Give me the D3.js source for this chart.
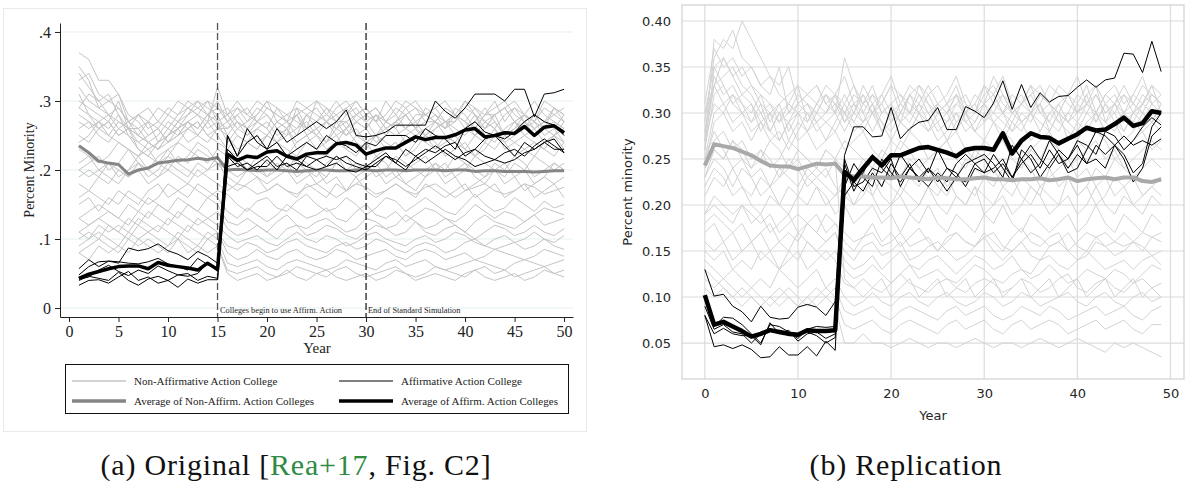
<!DOCTYPE html>
<html><head><meta charset="utf-8">
<script src="https://cdn.jsdelivr.net/npm/d3@7"></script>
<style>body{margin:0;background:#fff}svg{display:block}</style>
</head><body>
<svg id="c" width="1187" height="483"></svg>
<script>
// ---------------- DATA (values in percent) ----------------
// Panel (a): years 1..50
const yearsA = d3.range(1, 51);
const xTicksA = [0,5,10,15,20,25,30,35,40,45,50];
const yTicksA = [0, 0.1, 0.2, 0.3, 0.4];
const yTickLabelsA = ["0", ".1", ".2", ".3", ".4"];
const greyA = [
"37 36 33 33 31 28 27 25 26 28  27 29 28 27 32 28 26 27 29 28  26 27 25 28 29 27 26 28 30 28  27 25 27 28 26 29 28 27 28 26  27 29 27 25 27 28 26 27 28 27",
"35 33 29 30 31 27 25 24 25 27  26 28 30 29 28 29 27 26 28 30  27 28 29 26 27 28 30 28 29 27  28 26 27 29 30 28 27 29 28 27  26 28 29 30 28 27 26 27 29 27",
"34 32 30 31 28 26 26 27 24 25  27 28 29 30 27 28 30 28 27 26  29 28 27 26 30 29 27 27 28 29  27 30 28 26 28 28 29 27 27 30  28 26 28 29 27 28 30 28 27 26",
"33 34 31 30 29 27 26 24 23 25  26 27 26 28 27 26 28 29 27 28  26 25 29 28 26 27 28 29 27 26  28 27 29 28 26 27 27 26 29 28  26 28 28 29 27 26 28 26 29 28",
"32 30 29 28 27 26 25 24 23 24  26 27 25 27 28 25 27 26 24 25  27 26 28 25 26 27 25 26 28 27  25 26 27 28 26 25 27 26 28 27  25 26 27 25 26 28 27 26 25 27",
"30 29 28 27 30 26 25 27 26 24  25 27 28 26 27 24 26 25 27 26  24 25 26 27 25 24 26 27 25 26  24 25 27 26 25 24 26 27 25 26  28 25 24 26 27 25 26 24 25 26",
"29 28 26 27 25 26 24 23 24 26  25 27 26 28 26 27 25 24 26 25  27 26 24 25 26 24 27 25 26 24  25 27 26 24 25 26 27 25 24 26  25 27 26 24 25 26 27 25 26 24",
"28 27 26 25 27 26 23 22 24 25  26 24 25 27 25 23 25 24 23 25  24 26 23 24 25 23 24 26 24 23  25 24 23 25 26 24 23 25 24 23  25 24 26 23 24 25 24 23 25 24",
"27 26 27 25 24 23 22 24 23 25  27 26 25 24 26 25 23 24 25 23  24 22 24 25 23 24 25 23 22 24  25 23 24 22 24 25 23 24 25 23  22 24 23 25 24 23 22 24 25 23",
"26 27 25 24 26 25 23 22 21 23  24 26 27 25 24 23 22 24 23 25  24 23 22 24 23 22 24 23 25 24  22 23 24 22 23 25 24 22 23 24  22 23 25 24 22 23 24 23 22 24",
"25 24 26 27 25 26 28 27 29 28  30 29 28 30 29 28 29 27 28 30  29 27 28 29 30 28 27 29 30 28  29 27 28 30 29 28 27 29 28 30  29 27 28 29 30 28 27 29 28 29",
"24 25 27 28 26 27 28 29 27 26  28 29 30 28 29 27 28 26 27 29  28 27 26 28 27 29 28 26 27 28  29 27 26 28 29 27 28 26 27 29  28 27 26 28 29 27 28 27 26 28",
"29 31 30 28 29 27 28 26 27 29  28 30 29 28 30 27 29 28 30 29  28 27 30 29 28 27 29 30 28 29  27 28 30 29 27 28 29 30 28 27  29 28 30 27 29 28 27 30 29 28",
"31 28 27 26 28 25 24 25 26 24  25 26 27 25 26 26 27 25 26 27  25 26 28 26 25 27 26 25 27 26  28 26 25 26 27 25 26 27 26 25  27 26 28 25 26 27 25 26 27 26",
"23 22 21 22 24 23 21 20 22 23  21 22 24 23 21 20 22 21 20 19  21 20 22 21 20 19 21 22 20 21  19 20 22 21 20 19 21 20 22 21  20 19 21 20 22 21 19 20 21 20",
"21 22 20 21 19 20 22 23 21 20  22 21 23 22 21 20 19 20 21 19  20 21 19 20 18 19 21 20 19 20  21 19 20 18 19 20 21 19 20 21  19 18 20 21 19 20 18 19 21 20",
"20 21 22 20 21 23 22 20 21 22  24 23 22 21 23 22 21 20 22 21  20 22 21 20 19 21 22 20 21 20  22 21 19 20 21 22 20 21 19 20  22 21 20 19 21 20 22 21 20 21",
"20 19 20 19 18 20 21 19 20 22  21 20 19 20 21 19 18 20 19 18  19 20 18 19 20 18 19 17 18 19  20 18 19 18 17 19 20 18 19 17  18 19 20 18 19 17 18 19 18 19",
"18 17 19 18 20 19 21 20 19 21  20 19 21 20 22 18 17 18 19 17  18 17 16 18 17 16 18 17 19 17  16 17 18 17 16 18 17 16 17 18  16 17 18 16 17 18 16 17 18 16",
"16 17 16 15 17 16 15 17 18 16  17 18 17 16 17 16.5 15 14 15.5 16 14.5 14 15.5 16.5 15  14 14.5 16 15 13.5 14.5 16 15.5 14 15  16 15 14 13.5 15 16.5 15 14 14.5 16  15 14 15.5 14.5 15",
"15 16 14 16 15 17 16 15 16 18  17 16 18 17 16 14 13 14.5 13.5 12.5  13.5 15 14 13 13.5 14.5 13 12.5 14 15  13.5 13 14 12.5 13.5 14.5 14 13 12.5 13.5  15 14 13 14 13.5 12.5 13.5 14.5 14 13.5",
"13 14 15 14 13 15 14 16 15 14  16 15 14 16 15 12.5 12 13 12 11  12.5 13.5 12 11.5 12.5 13 12 11 11.5 13  12.5 11.5 12 13.5 12.5 11.5 12 13 12 11  12.5 13.5 12.5 12 11.5 12.5 13.5 12 12.5 13",
"13 12 13 14 13 12 14 13 15 14  13 15 14 13 14 11.5 10.5 11 12 11  10 11.5 12 10.5 11 12 11.5 10.5 10 11  12 11.5 10.5 11 12.5 11 10.5 11.5 12 11  10 11 12 11.5 10.5 11 12 11 10.5 11.5",
"11 12 13 12 11 13 12 14 13 12  14 13 12 13 12 10.5 9.5 10 10.5 9.5  9 10 11 10 9.5 10.5 10 9 9.5 10.5  11 10 9.5 9 10 10.5 9.5 10 11 10.5  9.5 9 10 10.5 9.5 10 11 10 9.5 10.5",
"11 10 12 11 12 11 13 12 11 13  12 11 13 12 11 9 8.5 9.5 9 8  8.5 9.5 10 9 8.5 8 9 9.5 8.5 9  10 9.5 8.5 8 9 9.5 9 8 8.5 9.5  10 9 8.5 9 9.5 8.5 9 10 9 8.5",
"10 11 10 12 11 10 12 11 12 11  10 12 11 10 11 8 7 7.5 8.5 7.5  7 8 8.5 7.5 7 7.5 8.5 8 7 7.5  8 8.5 7.5 7 8 8.5 8 7 7.5 8  7 7.5 8.5 8 7.5 7 7.5 8.5 8 7.5",
"9 10 11 10 9 11 10 11 10 9  11 10 9 11 10 6.5 6 6.5 7 6  5.5 6.5 7 6.5 6 5.5 6 7 6.5 6  5.5 6.5 7 6 6.5 7 6 5.5 6 6.5  7 6.5 6 5.5 6.5 7 6.5 6 6.5 7",
"8 9 10 9 8 10 9 10 9 8  10 9 8 10 9 5.5 5 5.5 6 5  4.5 5 6 5.5 5 4.5 5.5 6 5 4.5  5 5.5 6 5 4.5 5 6 5.5 5 4.5  5.5 6 5 5.5 4.5 5 5.5 6 5 5.5",
"8 7 9 8 9 8 10 9 8 9  10 8 9 8 9 5 4 4.5 5 4  4.5 5.5 4.5 4 5 5.5 4.5 4 4.5 5  4 4.5 5.5 5 4 4.5 5 4.5 4 5  5.5 4.5 4 4.5 5 4 4.5 5.5 5 4.5",
"19 20 19 21 20 19 20 18 19 20  19 18 20 19 18 17 18 17.5 16.5 17  18 17 16.5 17.5 18 17 16 17 18 17.5  16.5 17 18 17 16.5 17.5 18 17 16 17  17.5 18 17 16.5 17 18 17.5 16.5 17 17.5"
];
const blackA = [
"5.7 7.0 6.0 6.8 6.5 8.7 8.3 8.6 9.3 8.3 7.8 7.0 8.2 7.5 6.5  25 22 24 25 23 26 24 25 26 27  26 27 28.7 25 24.8 25 25.5 26.5 26.5 26.5  26.5 30 28.5 27.5 29 31 31 31 30 31.7  31.7 27.7 31 31.2 31.7",
"4.8 6.0 6.7 6.8 6.7 6.5 6.4 6.7 7.2 6.4 6.0 5.5 7.2 6.3 5.8  25 22 26 24 23 24 22 23 24 23  25 24 23.5 22.5 24 23.5 25 25 25 24  26 25 24.5 23 26 27 25.5 25 24.5 25.5  27 28 27 26.5 25",
"4.2 4.5 5.5 6.2 5.3 4.7 5.5 5.0 6.1 5.4 4.8 4.6 5.0 6.5 5.3  23 21.5 20 21 22 20.5 21 20 22 21.5  22 21.5 22 21 20.5 21.5 22.5 21 20 22  23 22.5 23.5 24 22 23 24.5 25 23.5 22  24 23 24 24.5 22.5",
"4.0 4.6 4.3 4.0 5.2 4.0 3.3 4.2 4.6 4.0 4.8 5.0 4.0 4.6 4.3  22 20.5 21 20 21.5 20 22 21.5 20.5 20  20.5 22 21 20.5 20 21 22 21.5 20.5 21.5  22.5 23.5 22.5 21.5 22.5 23 22 21.5 22.5 23  22 23.5 24.5 23.5 22.5",
"3.3 4.0 4.1 3.6 4.5 5.3 4.0 4.5 3.6 4.0 3.0 4.2 3.6 4.1 4.1  20.5 21 20 20.5 20.5 22 20.5 21 20.5 21.5  20.5 21 20 19.7 20.5 20.5 22 21 23 22  21 22 23 22 21.5 20.5 21 21.5 21 21.5  22.5 23 24 23 23"
];
const avgNonA = "23.5 22.5 21.3 21.0 20.8 19.4 20.0 20.3 21.0 21.2 21.4 21.5 21.7 21.5 21.8  20.0 20.1 20.0 19.9 20.0 20.0 19.9 19.8 19.9 20.0  20.0 19.9 19.9 20.0 20.0 19.9 20.0 20.0 19.9 20.0  20.0 20.0 19.9 20.0 20.0 19.8 19.9 19.9 19.8 19.8  19.8 19.7 19.8 19.9 19.9";
const avgAffA = "4.3 4.9 5.3 5.7 6.0 6.1 6.1 5.7 6.6 6.2 6.0 5.8 5.5 6.5 5.6  22.3 21.4 22.0 21.8 22.6 22.8 22.0 21.6 22.3 22.5  22.5 23.8 24.0 23.6 22.3 22.8 23.2 23.2 24.0 24.8  24.4 24.7 24.7 25.1 25.8 26.0 24.8 25.0 25.4 25.3  26.3 25.0 26.2 26.4 25.4";
const legendA = ["Non-Affirmative Action College", "Affirmative Action College",
                 "Average of Non-Affirm. Action Colleges", "Average of Affirm. Action Colleges"];

// Panel (b): years 0..49
const yearsB = d3.range(0, 50);
const xTicksB = [0, 10, 20, 30, 40, 50];
const yTicksB = [0.05, 0.10, 0.15, 0.20, 0.25, 0.30, 0.35, 0.40];
const greyB = [
"27 38 37 39 36 35 33 34 32 31  30 31 30 32 31 30 32 31 33 30  31 32 30 31 33 31 30 32 31 30  32 33 31 30 31 32 30 31 33 32  30 31 32 30 31 33 31 30 32 31",
"29 36 38 37 40 38 36 34 33 35  31 32 33 31 30 32 30 33 31 32  30 31 33 32 30 31 32 34 31 30  33 31 32 30 31 33 32 31 30 32  31 33 30 32 31 30 32 31 33 32",
"31 37 35 36 34 35 33 32 35 30  32 31 29 30 32 31 33 30 32 31  29 30 32 33 31 30 29 31 32 30  31 29 30 32 31 33 30 29 31 32  30 31 33 29 30 32 31 30 29 31",
"30 35 36 34 35 33 32 31 30 31  33 29 31 32 30 36 33 31 30 32  34 31 30 33 32 30 31 33 30 32  31 34 32 30 31 32 33 31 30 32  34 31 30 32 33 31 32 34 31 32",
"28 33 34 35 33 32 30 31 29 30  31 32 33 31 32 30 31 29 30 31  33 30 32 31 29 31 30 32 29 30  31 32 30 29 31 30 32 31 29 30  32 31 30 29 31 32 30 31 33 30",
"26 32 33 31 32 33 31 30 29 31  30 28 29 30 31 29 30 32 30 28  29 31 30 29 28 30 31 29 30 28  29 31 30 28 29 30 31 29 28 30  29 31 30 28 29 30 29 31 30 29",
"27 31 30 32 31 29 30 28 30 29  31 30 28 29 30 28 30 29 31 29  28 30 29 31 30 28 29 30 28 29  31 30 29 28 30 29 31 28 30 29  28 30 29 31 29 28 30 29 31 30",
"25 30 31 29 30 31 28 30 27 29  30 31 30 32 31 30 29 31 32 30  31 29 30 32 31 29 30 31 30 29  31 32 30 31 29 30 32 31 30 29  31 30 32 30 31 29 30 32 31 30",
"28 34 32 33 31 30 32 29 31 28  30 29 31 30 32 29 31 30 28 30  31 29 32 30 29 31 30 28 30 31  29 30 32 31 29 30 28 30 31 29  30 32 29 31 30 28 30 31 32 31",
"24 29 30 28 29 27 29 28 30 27  29 28 30 29 28 30 28 29 31 28  30 29 28 30 29 27 28 30 29 28  30 29 27 29 28 30 29 28 30 27  29 28 30 29 28 30 29 28 29 30",
"26 35 33 31 30 28 29 27 28 26  28 30 29 27 29 31 29 28 30 29  27 29 28 30 28 29 27 29 30 28  27 29 28 30 29 27 28 30 29 28  27 29 30 28 29 27 28 30 29 28",
"30 33 36 34 32 31 29 30 31 32  33 32 31 33 32 34 31 32 30 31  33 32 31 30 32 33 31 32 30 31  33 32 34 31 32 30 31 33 32 31  30 32 33 31 32 30 31 33 32 31",
"26 27 28 26 27 25 26 24 25 27  26 25 24 26 25 27 26 25 24 26  25 27 26 24 25 26 27 25 24 26  25 26 27 25 24 26 25 27 26 24  25 26 27 25 26 24 25 26 27 26",
"24 26 25 27 25 24 26 25 23 24  26 25 24 23 25 24 23 25 24 22  24 23 25 24 23 24 22 23 25 24  23 22 24 23 25 24 22 23 24 25  23 24 22 23 25 24 23 24 25 24",
"23 25 24 22 24 23 21 22 24 23  22 24 23 22 21 23 22 24 21 23  22 21 23 22 24 22 21 23 22 21  23 24 22 21 23 22 21 24 22 23  21 22 24 23 21 22 23 21 22 23",
"21 23 22 24 22 21 23 22 20 22  21 23 22 20 21 22 20 21 23 21  20 22 21 20 22 21 23 21 20 22  21 20 22 23 21 20 22 21 20 23  21 22 20 21 23 22 20 21 22 21",
"25 28 26 24 25 23 24 22 23 25  24 22 23 24 22 21 20 22 21 19  20 21 19 20 22 20 19 21 20 22  19 20 21 19 20 22 21 19 20 21  19 20 22 20 19 21 20 19 21 20",
"22 24 23 21 22 20 19 21 20 19  21 20 22 21 19 20 18 19 20 18  19 17 19 18 20 18 17 19 18 17  19 18 20 18 17 19 18 17 18 19  17 18 20 18 17 19 18 17 19 18",
"19 21 20 19 20 18 19 17 18 19  17 18 19 17 18 17 16 16.5 18 16  17 15.5 16.5 17.5 16 15 16.5 17 16 15.5  17 16 15 16.5 17.5 16 15.5 16.5 17 15  16 17 16.5 15.5 16 17 16 15 16.5 17",
"18 19 18 17 18 16 17 18 16 17  16 18 17 16 17 15 14 15.5 16 14.5  15 16 14 14.5 15.5 16 15 14 14.5 15.5  16.5 15 14 15 16 14.5 14 15.5 16 15  14 14.5 16 15.5 14.5 15 16 15.5 14.5 15",
"17 18 16 17 15 16 17 15 16 15  17 16 15 16 17 14 13 13.5 14.5 13  14 15 13.5 13 14 14.5 13.5 12.5 13.5 14.5  14 13 13.5 14.5 13 12.5 14 14.5 13.5 13  14 15 14 13 13.5 14 13 14 14.5 13.5",
"16 15 16 14 15 16 14 15 13 15  14 16 15 14 15 13 12 12.5 13.5 12.5  11.5 12.5 13.5 12 12.5 13 12 11.5 12.5 13.5  13 12 11.5 12.5 13 12 12.5 13.5 12.5 11.5  12 13 12.5 12 13 12.5 11.5 12.5 13.5 13",
"15 14 15 13 14 13 15 14 13 14  15 13 14 15 14 11.5 11 12 11 10.5  11.5 12.5 11.5 11 10.5 11.5 12 11 10.5 11.5  12 11.5 10.5 11 12 11.5 10.5 11 12 12.5  11 10.5 11.5 12 11 10.5 11.5 12 11 11.5",
"14 13 12 13 12 11 12 11 13 12  11 12 13 11 12 10 9 9.5 10.5 9.5  9 10 10.5 9.5 9 10 10.5 9.5 9 9.5  10.5 10 9 9.5 10.5 10 9 9.5 10 10.5  9.5 9 10 10.5 9.5 9 10 10.5 9.5 10",
"13 12 11 10 11 10 9 10 11 10  9 10 11 10 11 8.5 8 8.5 9 8  7.5 8.5 9 8.5 8 7.5 8.5 9 8 8.5  9 8 7.5 8 9 8.5 8 9 8.5 7.5  8 8.5 9 8 8.5 9 8 7.5 8.5 9",
"12 11 12 11 10 11 10 9 10 11  10 9 10 11 10 7 6.5 7 7.5 6.5  6 7 7.5 7 6.5 6 7 7.5 6.5 7  7.5 6.5 6 7 7.5 6.5 7 7.5 7 6  6.5 7 7.5 6.5 7 7.5 6.5 6 7 7",
"11 10 11 10 9 10 9 10 9 10  9 10 9 10 9 5 5 6 5 5  4.5 5 5.5 5 4.5 5 5 4.5 5 5.5  5 4.5 5 5 4.5 5 5.5 5 4.5 5  5.5 5 4.5 4 5 4.5 5 4.5 4 3.5",
"19 20 19 18 20 19 18 19 17 18  19 18 17 19 18 16 15 16.5 17 15.5  16 17 15.5 16 16.5 15 16 17 16 15.5  16.5 17 15.5 15 16 17 16.5 15.5 16 17  15.5 15 16.5 17 16 15.5 16 17 16.5 16",
"27 33 31 32 30 29 31 28 27 29  27 28 26 27 28 26 27 28 26 25  27 26 28 27 25 26 27 28 26 25  27 26 28 27 25 26 27 28 26 25  27 26 28 27 25 26 27 28 26 27",
"23 26 25 27 26 24 25 27 26 24  25 23 24 26 25 12 11 10 11 12  10 11 12 10 11 12 10 11 12 10  11 12 10 11 12 10 11 12 10 11  12 10 11 12 10 11 12 10 11 10"
];
const blackB = [
"13.0 10.1 10.3 9.0 8.4 7.3 9.0 7.8 7.6 7.7 8.9 9.2 8.9 8.0 9.5  25.4 28.5 28.5 27.4 27.5 30.6 27.2 28.3 29 29.2  30.6 28.2 28.2 30.7 30.2 29.5 31.1 33.5 30.4 33.1  30.6 32.2 31.2 31.8 31.9 32.8 33.6 32.8 33.6 33.8  36.5 36.4 34.4 37.8 34.5",
"10.0 6.8 7.8 7.7 7.0 6.0 5.0 7.0 6.8 6.2 5.5 6.5 6.8 6.7 6.8  24.5 21.5 23.5 25.5 24 23 25.5 24 25 23.5  26 24 23 24.5 25 25.5 24.5 23 26.5 25  23.5 24.5 27 25.5 23.5 24 26 28 27.5 26.5  25.5 23.5 24.5 28.5 30",
"8.0 6.0 6.6 6.0 5.8 5.8 4.8 7.2 6.0 6.4 5.2 6.0 6.2 5.5 6.0  22 24.5 23 22 25 23.5 22.5 24 23 22  23.5 22.5 24.5 25.5 24.5 23.5 25.5 24 22.5 26  25 23 24.5 26 25 27 26.5 25.5 28 27.5  26 27 28.5 29.5 28.7",
"9.0 6.5 7.0 6.2 6.0 5.0 6.0 6.5 6.3 5.8 5.8 6.2 5.8 5.0 5.6  21 22.5 21.5 23.5 22 24.5 23 24.5 22.5 24  23 21.5 23 22.5 24.5 25 23.5 24.5 23 25  26.5 25 24 25.5 24 25.5 24.5 26.5 25.5 26.5  27.5 26.5 27 26.5 27.2",
"8.0 4.6 4.8 4.4 4.8 4.3 3.4 3.5 4.6 3.7 3.7 4.6 3.6 5.2 4.2  25 22 22.5 24 23.5 25 22 24 23 24  22.5 24 23.5 22 24 23.5 24 25 23 24.5  25.5 24 26 24.5 25 26.5 24.5 25 24 26.5  25 22.5 24 27.5 28.5"
];
const avgNonB = "24.3 26.6 26.4 26.2 25.8 25.4 24.8 24.3 24.2 24.2  23.9 24.2 24.5 24.4 24.5 23.3 23.1 23.1 23.0 23.0  22.9 23.1 23.0 22.9 22.8 23.0 22.9 22.8 22.8 22.9  23.0 22.8 22.8 22.7 22.8 22.8 22.9 22.7 22.8 23.0  22.6 22.8 22.9 23.0 22.8 23.0 23.0 22.6 22.5 22.8";
const avgAffB = "10.2 7.0 7.3 6.8 6.3 5.7 6.0 6.4 6.2 6.0  5.9 6.4 6.3 6.3 6.4 23.6 22.7 24.0 25.2 24.3  25.4 25.4 25.8 26.2 26.3 26.0 25.7 25.3 26.0 26.2  26.2 26.0 27.8 25.6 27.0 27.8 27.4 27.3 26.7 27.2  27.7 28.4 28.1 28.2 28.8 29.5 28.6 28.9 30.2 30.0";

// ---------------- DRAWING ----------------
const parse = s => s.trim().split(/\s+/).map(v => +v / 100);
const svg = d3.select("#c");
const SERIF = "'Liberation Serif','Times New Roman',serif";
const SANS = "'DejaVu Sans',sans-serif";

// ===== Panel (a) =====
const gA = svg.append("g");
gA.append("rect").attr("x", 3.5).attr("y", 8.5).attr("width", 583).attr("height", 423)
  .attr("fill", "#fff").attr("stroke", "#e6ecee");
const xA = d3.scaleLinear().domain([-0.91, 50.9]).range([60, 573]);
const yA = d3.scaleLinear().domain([-0.013, 0.413]).range([317, 23]);

gA.selectAll("line.grid").data(yTicksA).join("line")
  .attr("x1", 60).attr("x2", 573).attr("y1", d => yA(d)).attr("y2", d => yA(d))
  .attr("stroke", "#e6eff1").attr("stroke-width", 1);

const lineA = d3.line().x((d, i) => xA(yearsA[i])).y(d => yA(d));
gA.selectAll("path.grey").data(greyA.map(parse)).join("path")
  .attr("d", lineA).attr("fill", "none").attr("stroke", "#c4c4c4").attr("stroke-width", 1);
gA.append("path").attr("d", lineA(parse(avgNonA))).attr("fill", "none")
  .attr("stroke", "#858585").attr("stroke-width", 3).attr("stroke-linejoin", "round");

[[15, "#555"], [30, "#222"]].forEach(([v, c]) => {
  gA.append("line").attr("x1", xA(v)).attr("x2", xA(v)).attr("y1", 23).attr("y2", 317)
    .attr("stroke", c).attr("stroke-width", 1.3).attr("stroke-dasharray", "7,3");
});

gA.selectAll("path.black").data(blackA.map(parse)).join("path")
  .attr("d", lineA).attr("fill", "none").attr("stroke", "#000").attr("stroke-width", 1);
gA.append("path").attr("d", lineA(parse(avgAffA))).attr("fill", "none")
  .attr("stroke", "#000").attr("stroke-width", 3.5).attr("stroke-linejoin", "round");

const axLA = gA.append("g").attr("transform", "translate(60,0)")
  .call(d3.axisLeft(yA).tickValues(yTicksA).tickFormat((d, i) => yTickLabelsA[i]).tickSize(5).tickSizeOuter(0).tickPadding(4));
const axBA = gA.append("g").attr("transform", "translate(0,317)")
  .call(d3.axisBottom(xA).tickValues(xTicksA).tickSize(5).tickSizeOuter(0).tickPadding(4));
[axLA, axBA].forEach(a => {
  a.selectAll("text").attr("font-family", SERIF).attr("font-size", 16).attr("fill", "#222");
  a.selectAll("line,path").attr("stroke", "#222");
});

gA.append("text").attr("x", 220).attr("y", 313).attr("font-family", SERIF).attr("font-size", 8.3)
  .attr("fill", "#222").text("Colleges begin to use Affirm. Action");
gA.append("text").attr("x", 368).attr("y", 313).attr("font-family", SERIF).attr("font-size", 8.3)
  .attr("fill", "#222").text("End of Standard Simulation");

gA.append("text").attr("transform", "translate(34,170) rotate(-90)").attr("text-anchor", "middle")
  .attr("font-family", SERIF).attr("font-size", 14).attr("fill", "#222").text("Percent Minority");
gA.append("text").attr("x", 317).attr("y", 353).attr("text-anchor", "middle")
  .attr("font-family", SERIF).attr("font-size", 15).attr("fill", "#222").text("Year");

gA.append("rect").attr("x", 65.5).attr("y", 364.5).attr("width", 503).attr("height", 49)
  .attr("fill", "#fff").attr("stroke", "#111");
const legItems = [
  {x: 72, y: 381, c: "#c4c4c4", w: 1.5, t: legendA[0]},
  {x: 339, y: 381, c: "#000", w: 1, t: legendA[1]},
  {x: 72, y: 401, c: "#858585", w: 3.5, t: legendA[2]},
  {x: 339, y: 401, c: "#000", w: 3.5, t: legendA[3]}
];
legItems.forEach(L => {
  gA.append("line").attr("x1", L.x).attr("x2", L.x + 54).attr("y1", L.y).attr("y2", L.y)
    .attr("stroke", L.c).attr("stroke-width", L.w);
  gA.append("text").attr("x", L.x + 62).attr("y", L.y + 4).attr("font-family", SERIF)
    .attr("font-size", 11).attr("fill", "#222").text(L.t);
});

// ===== Panel (b) =====
const gB = svg.append("g");
const xB = d3.scaleLinear().domain([-2.45, 51.45]).range([682, 1184]);
const yB = d3.scaleLinear().domain([0.0109, 0.4174]).range([379, 5]);

gB.selectAll("line.gx").data(xTicksB).join("line")
  .attr("x1", d => xB(d)).attr("x2", d => xB(d)).attr("y1", 5).attr("y2", 379)
  .attr("stroke", "#dcdcdc").attr("stroke-width", 1.2);
gB.selectAll("line.gy").data(yTicksB).join("line")
  .attr("x1", 682).attr("x2", 1184).attr("y1", d => yB(d)).attr("y2", d => yB(d))
  .attr("stroke", "#dcdcdc").attr("stroke-width", 1.2);

const lineB = d3.line().x((d, i) => xB(yearsB[i])).y(d => yB(d));
gB.selectAll("path.grey").data(greyB.map(parse)).join("path")
  .attr("d", lineB).attr("fill", "none").attr("stroke", "#d3d3d3").attr("stroke-width", 1);
gB.selectAll("path.black").data(blackB.map(parse)).join("path")
  .attr("d", lineB).attr("fill", "none").attr("stroke", "#000").attr("stroke-width", 1);
gB.append("path").attr("d", lineB(parse(avgNonB))).attr("fill", "none")
  .attr("stroke", "#a9a9a9").attr("stroke-width", 4).attr("stroke-linejoin", "round");
gB.append("path").attr("d", lineB(parse(avgAffB))).attr("fill", "none")
  .attr("stroke", "#000").attr("stroke-width", 4.5).attr("stroke-linejoin", "round");

gB.append("rect").attr("x", 682).attr("y", 5).attr("width", 502).attr("height", 374)
  .attr("fill", "none").attr("stroke", "#d0d0d0").attr("stroke-width", 1.2);

const axLB = gB.append("g").attr("transform", "translate(682,0)")
  .call(d3.axisLeft(yB).tickValues(yTicksB).tickFormat(d3.format(".2f")).tickSize(0).tickPadding(11));
const axBB = gB.append("g").attr("transform", "translate(0,379)")
  .call(d3.axisBottom(xB).tickValues(xTicksB).tickSize(0).tickPadding(10));
[axLB, axBB].forEach(a => {
  a.select(".domain").remove();
  a.selectAll("text").attr("font-family", SANS).attr("font-size", 13).attr("fill", "#262626");
});
gB.append("text").attr("transform", "translate(632,192) rotate(-90)").attr("text-anchor", "middle")
  .attr("font-family", SANS).attr("font-size", 13).attr("fill", "#262626").text("Percent minority");
gB.append("text").attr("x", 933).attr("y", 420).attr("text-anchor", "middle")
  .attr("font-family", SANS).attr("font-size", 13).attr("fill", "#262626").text("Year");

// ===== Captions =====
const capA = svg.append("text").attr("x", 296).attr("y", 475).attr("text-anchor", "middle")
  .attr("font-family", SERIF).attr("font-size", 30).attr("letter-spacing", 0.8).attr("fill", "#111");
capA.append("tspan").text("(a) Original [");
capA.append("tspan").attr("fill", "#2f8a42").text("Rea+17");
capA.append("tspan").text(", Fig. C2]");
svg.append("text").attr("x", 906).attr("y", 475).attr("text-anchor", "middle")
  .attr("font-family", SERIF).attr("font-size", 30).attr("letter-spacing", 0.8).attr("fill", "#111")
  .text("(b) Replication");
</script>
</body></html>
